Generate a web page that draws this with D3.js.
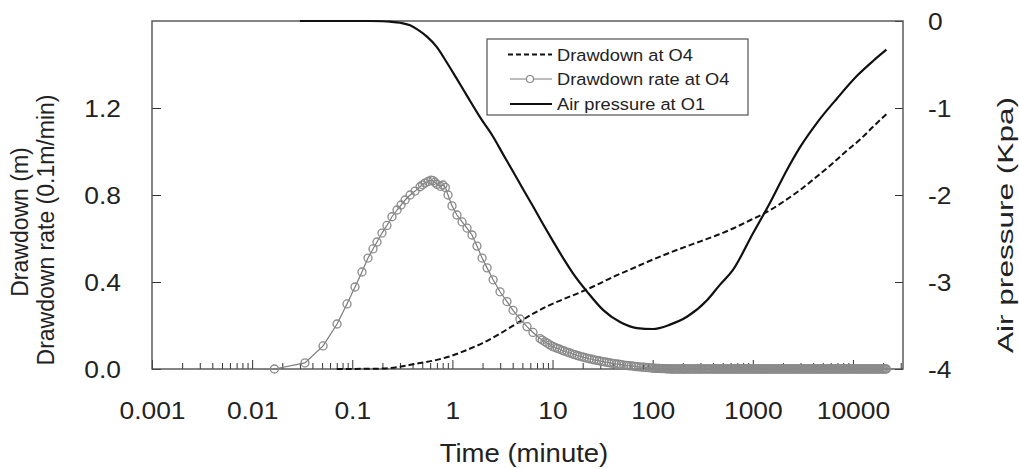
<!DOCTYPE html>
<html><head><meta charset="utf-8">
<script src="https://cdn.jsdelivr.net/npm/d3@7"></script>
<style>
body{margin:0;background:#fff}
svg{display:block}
text{font-family:"Liberation Sans",Arial,sans-serif;fill:#222}
</style>
</head><body>
<svg id="chart" width="1019" height="469"></svg>
<script>
// ---------------- data ----------------
const xTickValues = [0.001, 0.01, 0.1, 1, 10, 100, 1000, 10000];
const xTickLabels = ["0.001", "0.01", "0.1", "1", "10", "100", "1000", "10000"];
const leftTickValues = [0, 0.4, 0.8, 1.2];
const leftTickLabels = ["0.0", "0.4", "0.8", "1.2"];
const rightTickValues = [0, -1, -2, -3, -4];
const rightTickLabels = ["0", "-1", "-2", "-3", "-4"];

// Drawdown at O4 (m) — dashed
const drawdownTime = [0.07, 0.2, 0.3, 0.44, 0.7, 1.0, 1.4, 2.0, 3.0, 4.0, 6.0, 8.8, 13, 18.8, 28, 40, 60, 88, 130, 188, 300, 450, 634, 950, 1386, 2000, 2964, 4500, 6324, 8500, 11770, 16000, 21600];
const drawdownValue = [0, 0.002, 0.010, 0.025, 0.042, 0.062, 0.088, 0.119, 0.163, 0.198, 0.247, 0.288, 0.322, 0.352, 0.388, 0.423, 0.458, 0.492, 0.524, 0.553, 0.587, 0.617, 0.646, 0.685, 0.722, 0.768, 0.823, 0.890, 0.947, 1.000, 1.055, 1.115, 1.172];

// Air pressure at O1 (kPa) — solid, right axis
const pressureTime = [0.03, 0.05, 0.1, 0.15, 0.2, 0.238, 0.3, 0.378, 0.45, 0.557, 0.7, 0.883, 1.1, 1.4, 1.9, 2.55, 3.2, 4.03, 5, 6.38, 8, 10.1, 13, 16, 22.1, 31.9, 47.2, 69.8, 100, 149, 220, 349, 471, 634, 1005, 1486, 2198, 2964, 4375, 6935, 10990, 15880, 21600];
const pressureValue = [0, 0, 0, 0, -0.003, -0.008, -0.02, -0.05, -0.1, -0.18, -0.30, -0.48, -0.66, -0.86, -1.11, -1.33, -1.53, -1.73, -1.92, -2.13, -2.33, -2.53, -2.74, -2.90, -3.11, -3.32, -3.46, -3.53, -3.54, -3.49, -3.40, -3.21, -3.03, -2.86, -2.44, -2.09, -1.71, -1.45, -1.17, -0.89, -0.63, -0.46, -0.33];

// Drawdown rate at O4 (0.1 m/min) — grey line with circles
const rateTime = [0.0167, 0.0337, 0.0511, 0.0705, 0.0886, 0.1065, 0.125, 0.1436, 0.161, 0.1766, 0.198, 0.222, 0.249, 0.280, 0.307, 0.337, 0.378, 0.424, 0.475, 0.503, 0.533, 0.571, 0.610, 0.640, 0.670, 0.702, 0.760, 0.806, 0.850, 0.904, 0.991, 1.11, 1.25, 1.40, 1.57, 1.76, 1.98, 2.22, 2.55, 2.99, 3.51, 4.03, 4.73, 5.56, 6.38,
  7.5, 7.9, 8.4, 8.9, 9.4, 10, 10.6, 11.2, 11.8, 12.5, 13.2, 14, 14.8, 15.7, 16.6, 17.6, 18.6, 19.7, 20.8, 22, 23.3, 24.7, 26.1, 27.6, 29.2, 30.9, 32.7, 34.6, 36.6, 38.7, 41, 43.4, 45.9, 48.6, 51.4, 54.4, 57.6, 61, 64.5, 68.3, 72.3, 76.5, 81, 85.7, 90.7, 96,
  100, 104, 108, 112, 116, 120, 124, 128, 132, 136, 140, 144, 148];
const rateValue = [0, 0.028, 0.106, 0.207, 0.299, 0.377, 0.446, 0.510, 0.552, 0.584, 0.625, 0.660, 0.700, 0.731, 0.754, 0.777, 0.800, 0.818, 0.838, 0.847, 0.855, 0.862, 0.868, 0.866, 0.858, 0.849, 0.840, 0.846, 0.835, 0.800, 0.750, 0.708, 0.676, 0.648, 0.616, 0.565, 0.510, 0.465, 0.410, 0.355, 0.310, 0.270, 0.230, 0.195, 0.168,
  0.140, 0.133, 0.125, 0.118, 0.111, 0.104, 0.099, 0.095, 0.091, 0.086, 0.082, 0.078, 0.074, 0.070, 0.066, 0.062, 0.059, 0.056, 0.053, 0.050, 0.047, 0.045, 0.042, 0.040, 0.038, 0.035, 0.033, 0.031, 0.029, 0.027, 0.025, 0.023, 0.022, 0.020, 0.018, 0.017, 0.015, 0.014, 0.013, 0.011, 0.010, 0.009, 0.008, 0.007, 0.006, 0.005,
  0.004, 0.004, 0.003, 0.003, 0.003, 0.002, 0.002, 0.002, 0.002, 0.001, 0.001, 0.001, 0.001];
// long flat tail of the rate record (dense logging)
const rateTailTime = [152, 157, 162, 168, 174, 180, 186, 192, 198, 204, 210, 216,
  223, 231, 239, 247, 256, 265, 274, 283, 292, 301, 310,
  320, 332, 344, 356, 368, 380, 393, 406, 419, 432, 446, 460, 474,
  490, 506, 522, 538, 555, 572, 590, 608, 626, 645, 664, 684,
  704, 726, 748, 770, 793, 817, 841, 866, 892, 919, 946, 974,
  1003, 1033, 1063, 1095, 1128, 1162, 1197, 1233, 1270, 1308, 1347, 1387, 1428, 1471,
  1515, 1560, 1607, 1655, 1705, 1756, 1809, 1863, 1919, 1977, 2036, 2097, 2160, 2225, 2292,
  2361, 2432, 2505, 2580, 2657, 2737, 2819, 2904, 2991, 3081, 3173, 3268, 3366, 3467,
  3571, 3678, 3788, 3902, 4019, 4140, 4264, 4392, 4524, 4660, 4800, 4944, 5092, 5245, 5402,
  5564, 5731, 5903, 6080, 6262, 6450, 6644, 6843, 7048, 7260, 7478, 7702, 7933,
  8171, 8416, 8668, 8928, 9196, 9472, 9756, 10049, 10350, 10661, 10981, 11310, 11650,
  12000, 12360, 12730, 13110, 13500, 13910, 14330, 14760, 15200, 15660, 16130, 16610, 17110, 17620, 18150, 18700, 19260, 19840, 20430, 21040, 21600];
const rateTailValue = [0,0,0,0,0,0,0,0,0,0,0,0,0,0,0,0,0,0,0,0,0,0,0,0,0,
  0,0,0,0,0,0,0,0,0,0,0,0,0,0,0,0,0,0,0,0,0,0,0,0,0,
  0,0,0,0,0,0,0,0,0,0,0,0,0,0,0,0,0,0,0,0,0,0,0,0,0,
  0,0,0,0,0,0,0,0,0,0,0,0,0,0,0,0,0,0,0,0,0,0,0,0,0,
  0,0,0,0,0,0,0,0,0,0,0,0,0,0,0,0,0,0,0,0,0,0,0,0,0,
  0,0,0,0,0,0,0,0,0,0,0,0,0,0,0,0,0,0,0,0,0,0,0,0,0,
  0,0,0,0,0,0,0,0,0,0,0,0,0,0,0,0,0,0,0,0,0,0,0,0,0];

const legendLabels = ["Drawdown at O4", "Drawdown rate at O4", "Air pressure at O1"];

// ---------------- drawing ----------------
const svg = d3.select("#chart");
const L = 152, R = 903, T = 21, B = 369;
const SX = 1.1;
const FONT = "'Liberation Sans',Arial,sans-serif";

const x = d3.scaleLog().domain([0.001, Math.pow(10, 4.5)]).range([L, R]);
const yL = d3.scaleLinear().domain([0, 1.6]).range([B, T]);
const yR = d3.scaleLinear().domain([-4, 0]).range([B, T]);

const zip = (a, b) => a.map((t, i) => [t, b[i]]);
const drawdown = zip(drawdownTime, drawdownValue);
const pressure = zip(pressureTime, pressureValue);
const rate = zip(rateTime, rateValue).concat(zip(rateTailTime, rateTailValue));

function htext(g, px, py, str, size, anchor) {
  return g.append("text")
    .attr("transform", `translate(${px},${py}) scale(${SX},1)`)
    .attr("text-anchor", anchor)
    .style("font-size", size + "px")
    .text(str);
}

// x axis: minor ticks + major ticks, pointing inward
const minor = [];
for (let e = -3; e <= 4; e++) for (let k = 2; k <= 9; k++) {
  const v = k * Math.pow(10, e);
  if (v < x.domain()[1]) minor.push(v);
}
const gxMinor = svg.append("g").attr("transform", `translate(0,${B})`)
  .call(d3.axisBottom(x).tickValues(minor).tickSize(-6).tickFormat(""));
const gxMajor = svg.append("g").attr("transform", `translate(0,${B})`)
  .call(d3.axisBottom(x).tickValues(xTickValues).tickSize(-9).tickFormat((d, i) => xTickLabels[i]));
[gxMinor, gxMajor].forEach(g => { g.select(".domain").remove(); g.selectAll("line").attr("stroke", "#333").attr("stroke-width", 1); });
gxMajor.selectAll("text")
  .attr("y", null).attr("dy", null)
  .attr("transform", `translate(0,50) scale(${SX},1)`)
  .attr("fill", "#222").style("font-size", "24px").style("font-family", FONT);

// left axis
const gyL = svg.append("g").attr("transform", `translate(${L},0)`)
  .call(d3.axisLeft(yL).tickValues(leftTickValues).tickSize(-9).tickFormat((d, i) => leftTickLabels[i]));
gyL.select(".domain").remove();
gyL.selectAll("line").attr("stroke", "#333");
gyL.selectAll("text")
  .attr("x", null).attr("dy", null)
  .attr("text-anchor", "end")
  .attr("transform", `translate(-31,8.5) scale(${SX},1)`)
  .attr("fill", "#222").style("font-size", "24px").style("font-family", FONT);

// right axis
const gyR = svg.append("g").attr("transform", `translate(${R},0)`)
  .call(d3.axisRight(yR).tickValues(rightTickValues).tickSize(-8).tickFormat((d, i) => rightTickLabels[i]));
gyR.select(".domain").remove();
gyR.selectAll("line").attr("stroke", "#333");
gyR.selectAll("text")
  .attr("x", null).attr("dy", null)
  .attr("text-anchor", "start")
  .attr("transform", `translate(25,8.5) scale(${SX},1)`)
  .attr("fill", "#222").style("font-size", "24px").style("font-family", FONT);

// frame
svg.append("rect").attr("x", L).attr("y", T).attr("width", R - L).attr("height", B - T)
  .attr("fill", "none").attr("stroke", "#505050").attr("stroke-width", 1.4);

// series
const lineL = d3.line().x(d => x(d[0])).y(d => yL(d[1])).curve(d3.curveMonotoneX);
const lineR = d3.line().x(d => x(d[0])).y(d => yR(d[1])).curve(d3.curveMonotoneX);
const lineRate = d3.line().x(d => x(d[0])).y(d => yL(d[1]));

svg.append("path").datum(drawdown).attr("d", lineL)
  .attr("fill", "none").attr("stroke", "#111").attr("stroke-width", 2).attr("stroke-dasharray", "6,3");
svg.append("path").datum(pressure).attr("d", lineR)
  .attr("fill", "none").attr("stroke", "#111").attr("stroke-width", 2.2);
svg.append("path").datum(rate).attr("d", lineRate)
  .attr("fill", "none").attr("stroke", "#7a7a7a").attr("stroke-width", 1.2);
svg.append("g").selectAll("circle").data(rate).join("circle")
  .attr("cx", d => x(d[0])).attr("cy", d => yL(d[1])).attr("r", 4)
  .attr("fill", "none").attr("stroke", "#8a8a8a").attr("stroke-width", 1.3);

// legend
const lg = svg.append("g");
lg.append("rect").attr("x", 487).attr("y", 39).attr("width", 261).attr("height", 76)
  .attr("fill", "#fff").attr("stroke", "#505050").attr("stroke-width", 1.2);
const rowsY = [54.5, 79, 104];
lg.append("line").attr("x1", 508).attr("x2", 552).attr("y1", rowsY[0]).attr("y2", rowsY[0])
  .attr("stroke", "#111").attr("stroke-width", 2).attr("stroke-dasharray", "5,3");
lg.append("line").attr("x1", 510).attr("x2", 552).attr("y1", rowsY[1]).attr("y2", rowsY[1])
  .attr("stroke", "#7a7a7a").attr("stroke-width", 1.2);
lg.append("circle").attr("cx", 530).attr("cy", rowsY[1]).attr("r", 3.5)
  .attr("fill", "#fff").attr("stroke", "#8a8a8a").attr("stroke-width", 1.2);
lg.append("line").attr("x1", 510).attr("x2", 552).attr("y1", rowsY[2]).attr("y2", rowsY[2])
  .attr("stroke", "#111").attr("stroke-width", 2.2);
legendLabels.forEach((s, i) => htext(lg, 557, rowsY[i] + 6, s, 16.6, "start"));

// axis titles
htext(svg, 524, 462, "Time (minute)", 25, "middle");
svg.append("text").attr("transform", "translate(28,222) rotate(-90)").attr("text-anchor", "middle")
  .style("font-size", "23px").text("Drawdown (m)");
svg.append("text").attr("transform", "translate(54,230) rotate(-90)").attr("text-anchor", "middle")
  .style("font-size", "23px").text("Drawdown rate (0.1m/min)");
svg.append("text").attr("transform", "translate(1013,225) rotate(-90)").attr("text-anchor", "middle")
  .attr("textLength", 256).attr("lengthAdjust", "spacingAndGlyphs")
  .style("font-size", "22px").text("Air pressure (Kpa)");
</script>
</body></html>
